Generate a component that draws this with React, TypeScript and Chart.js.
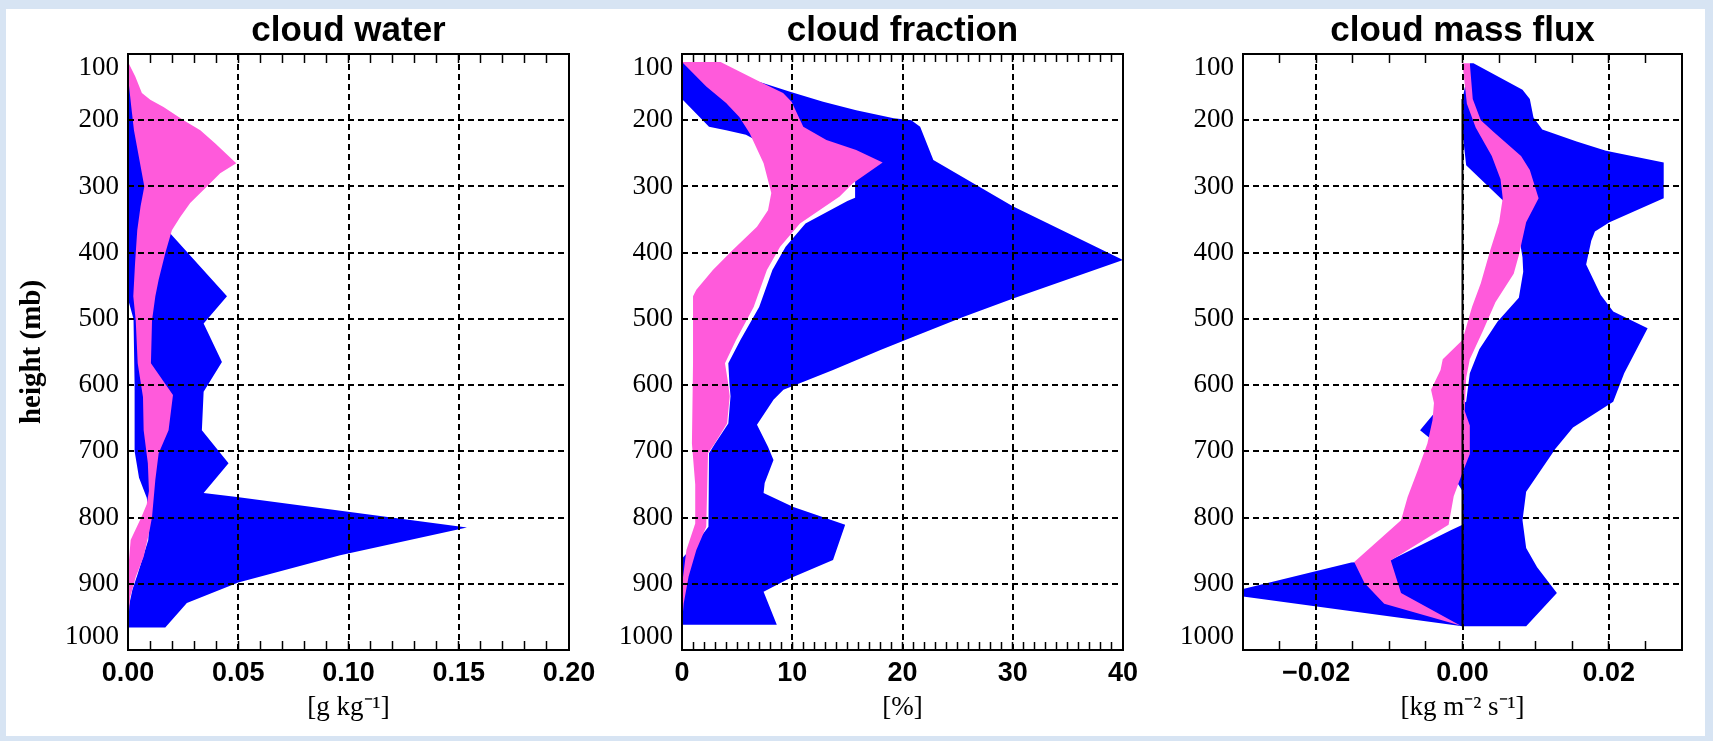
import React, { useEffect, useRef } from 'react';
import { Chart, registerables } from 'chart.js';

Chart.register(...registerables);

// ---------------- shared height axis (mb) ----------------
const heightTicks = [100, 200, 300, 400, 500, 600, 700, 800, 900, 1000];
const heightTop = 100;
const heightBottom = 1000;

// ---------------- cloud water [g kg-1] ----------------
const cwTicks = [0, 0.05, 0.1, 0.15, 0.2];
const cwTickLabels = ['0.00', '0.05', '0.10', '0.15', '0.20'];
const cwBlueLeftLev = [134, 470, 500, 600, 700, 740, 770, 800, 834, 884, 909, 940, 966];
const cwBlueLeftVal = [0, 0, 0.0025, 0.003, 0.003, 0.005, 0.0085, 0.0098, 0.0092, 0.0045, 0.002, 0, 0];
const cwBlueRightLev = [134, 180, 215, 300, 371, 466, 507, 565, 610, 668, 718, 763, 769, 815, 857, 898, 929, 966];
const cwBlueRightVal = [0, 0.004, 0.01, 0.015, 0.0192, 0.0449, 0.0343, 0.0426, 0.0343, 0.0335, 0.0456, 0.0343, 0.0494, 0.1537, 0.0962, 0.05, 0.0267, 0.0169];
const cwPinkLeftLev = [112, 134, 180, 215, 300, 330, 366, 416, 466, 502, 567, 618, 668, 718, 760, 780, 800, 834, 870, 900, 960];
const cwPinkLeftVal = [0, 0, 0.0015, 0.0027, 0.0074, 0.0057, 0.0042, 0.0032, 0.0024, 0.0035, 0.0044, 0.0068, 0.0071, 0.009, 0.0095, 0.0085, 0.006, 0.0012, 0.0003, 0, 0];
const cwPinkRightLev = [112, 134, 159, 169, 180, 200, 215, 235, 265, 280, 300, 325, 346, 366, 401, 441, 466, 502, 567, 615, 668, 703, 743, 799, 819, 859, 889, 920, 960];
const cwPinkRightVal = [0, 0.0033, 0.0063, 0.0101, 0.0161, 0.0252, 0.0328, 0.0396, 0.0491, 0.0418, 0.0358, 0.0282, 0.0237, 0.0199, 0.0169, 0.0139, 0.0124, 0.0109, 0.0104, 0.0204, 0.0184, 0.0139, 0.0124, 0.0109, 0.0098, 0.0071, 0.0036, 0.001, 0];

// ---------------- cloud fraction [%] ----------------
const cfTicks = [0, 10, 20, 30, 40];
const cfTickLabels = ['0', '10', '20', '30', '40'];
const cfBlueLeftLev = [112, 168, 210, 215, 222, 260, 292, 317, 322, 356, 391, 426, 482, 532, 567, 597, 617, 658, 688, 703, 814, 840, 862, 962];
const cfBlueLeftVal = [0, 0, 2.45, 4.0, 5.8, 10, 15.7, 15.7, 15.0, 11.2, 9.4, 8.2, 7.0, 5.3, 4.2, 4.3, 4.4, 4.2, 3.0, 2.45, 2.4, 1.2, 0, 0];
const cfBlueRightLev = [112, 144, 157, 172, 185, 197, 200, 210, 260, 330, 411, 469, 497, 527, 547, 577, 607, 622, 660, 693, 713, 748, 763, 784, 811, 864, 894, 912, 962];
const cfBlueRightVal = [1, 7.4, 9.8, 12.8, 15.8, 19.2, 20.8, 21.6, 22.8, 30.0, 40.0, 30.1, 25.5, 21.0, 18.0, 13.7, 9.2, 8.3, 6.8, 7.8, 8.3, 7.5, 7.4, 10.1, 14.8, 13.7, 9.5, 7.4, 8.6];
const cfPinkLeftLev = [112, 149, 174, 195, 220, 265, 310, 336, 361, 396, 426, 456, 466, 567, 688, 750, 809, 849, 889, 910, 960];
const cfPinkLeftVal = [0, 2.2, 4.0, 5.2, 6.15, 7.4, 8.1, 7.8, 6.8, 4.6, 2.8, 1.3, 1.0, 1.0, 0.9, 1.2, 1.2, 0.4, 0.1, 0, 0];
const cfPinkRightLev = [112, 142, 159, 172, 210, 230, 245, 264, 295, 315, 356, 391, 426, 482, 532, 567, 597, 617, 658, 688, 703, 814, 849, 889, 930, 960];
const cfPinkRightVal = [3.5, 7.06, 9.17, 9.94, 11.0, 13.1, 15.8, 18.2, 15.5, 14.3, 10.7, 8.9, 7.7, 6.5, 4.9, 3.9, 4.18, 4.33, 4.09, 2.97, 2.36, 2.2, 1.3, 0.6, 0.15, 0];

// ---------------- cloud mass flux [kg m-2 s-1] ----------------
const mfTicks = [-0.02, 0, 0.02];
const mfTickLabels = ['\u22120.02', '0.00', '0.02'];
const mfBlueLeftLev = [114, 168, 218, 268, 321, 360, 407, 429, 468, 504, 546, 582, 625, 643, 668, 685, 720, 746, 760, 811, 819, 864, 868, 915, 964];
const mfBlueLeftVal = [0.001, 0, 0, 0.0005, 0.0055, 0.0075, 0.0082, 0.0083, 0.0077, 0.0048, 0.0023, 0.001, 0.0005, -0.0039, -0.0058, -0.0039, -0.002, -0.0008, 0, 0, -0.0016, -0.0098, -0.0152, -0.0327, 0];
const mfBlueRightLev = [114, 154, 168, 196, 214, 232, 246, 264, 318, 354, 368, 382, 418, 464, 489, 514, 582, 625, 664, 696, 761, 804, 846, 875, 914, 964];
const mfBlueRightVal = [0.0015, 0.0082, 0.0092, 0.0097, 0.0109, 0.0156, 0.0196, 0.0275, 0.0275, 0.0201, 0.0181, 0.0176, 0.0169, 0.0189, 0.0206, 0.0253, 0.0221, 0.0206, 0.0151, 0.0127, 0.0087, 0.0082, 0.0087, 0.0102, 0.0129, 0.0087];
const mfPinkLeftLev = [114, 175, 211, 254, 289, 318, 354, 396, 446, 482, 532, 561, 577, 607, 627, 653, 688, 728, 769, 804, 867, 899, 930, 963];
const mfPinkLeftVal = [0, 0.0006, 0.0018, 0.004, 0.0052, 0.0055, 0.005, 0.0038, 0.0025, 0.0013, 0, -0.0027, -0.003, -0.0043, -0.0039, -0.0041, -0.0048, -0.0061, -0.0075, -0.0084, -0.0148, -0.0134, -0.0107, -0.0003];
const mfPinkRightLev = [114, 168, 200, 218, 254, 275, 318, 354, 404, 432, 475, 518, 561, 589, 639, 661, 704, 732, 768, 811, 865, 914, 963];
const mfPinkRightVal = [0.001, 0.0014, 0.0025, 0.0043, 0.008, 0.0092, 0.0104, 0.0087, 0.0077, 0.007, 0.0045, 0.0028, 0.001, 0.0005, 0.0003, 0.001, 0.001, 0, -0.0012, -0.0019, -0.0098, -0.0084, -0.0003];
const mfZeroLev = [168, 964];
const mfZeroVal = [0, 0];

// ---------------- styles ----------------
const BLUE = '#0000ff';
const PINK = '#ff5adb';
const SANS = '"Liberation Sans", Arial, Helvetica, sans-serif';
const SERIF = '"Liberation Serif", "Times New Roman", serif';
const CLEAR = 'rgba(0,0,0,0)';

type Series = { color: string; leftLev: number[]; leftVal: number[]; rightLev: number[]; rightVal: number[] };
type Spec = {
  id: string;
  left: number;
  axisW: number;
  plotW: number;
  title: string;
  xMin: number;
  xMax: number;
  ticks: number[];
  tickLabels: string[];
  minorStep: number;
  minorLen: number;
  xTitle: string;
  yTitle?: string;
  series: Series[];
  zeroLev?: number[];
  zeroVal?: number[];
};

function polygon(s: Series) {
  const pts: { x: number; y: number }[] = [];
  for (let i = 0; i < s.leftLev.length; i++) pts.push({ x: s.leftVal[i], y: s.leftLev[i] });
  for (let i = s.rightLev.length - 1; i >= 0; i--) pts.push({ x: s.rightVal[i], y: s.rightLev[i] });
  return pts;
}

function minorPositions(min: number, max: number, step: number) {
  const out: number[] = [];
  const n = Math.round((max - min) / step);
  for (let i = 1; i < n; i++) out.push(min + i * step);
  return out;
}

function heightLabel(v: number): string | string[] {
  if (v === heightTop) return ['', String(v)];
  if (v === heightBottom) return [String(v), ''];
  return String(v);
}

function buildConfig(s: Spec): any {
  const datasets: any[] = [];
  if (s.zeroLev && s.zeroVal) {
    datasets.push({
      data: s.zeroLev.map((l, i) => ({ x: s.zeroVal![i], y: l })),
      borderColor: '#000',
      borderWidth: 2,
      pointRadius: 0,
      fill: false,
      xAxisID: 'x',
      yAxisID: 'y',
    });
  }
  for (const ser of s.series) {
    datasets.push({
      data: polygon(ser),
      backgroundColor: ser.color,
      borderColor: CLEAR,
      borderWidth: 1,
      borderDash: [10, 0],
      pointRadius: 0,
      pointHitRadius: 0,
      tension: 0,
      fill: 'shape',
      xAxisID: 'x',
      yAxisID: 'y',
    });
  }
  const minor = minorPositions(s.xMin, s.xMax, s.minorStep);
  const isEdgeX = (v: number) => Math.abs(v - s.xMin) < 1e-9 || Math.abs(v - s.xMax) < 1e-9;
  const isEdgeY = (v: number) => v === heightTop || v === heightBottom;
  const yBase = { type: 'linear', min: heightTop, max: heightBottom, reverse: true };
  const minorAxis = (position: string) => ({
    type: 'linear',
    position,
    min: s.xMin,
    max: s.xMax,
    weight: 0,
    afterBuildTicks: (sc: any) => {
      sc.ticks = minor.map((v) => ({ value: v }));
    },
    afterFit: (sc: any) => {
      sc.height = 0;
    },
    ticks: { display: false },
    grid: {
      display: true,
      drawOnChartArea: false,
      drawTicks: true,
      tickLength: -s.minorLen,
      tickColor: '#000',
      tickWidth: 1.5,
      z: 1,
    },
    border: { display: true, color: '#000', width: 2, z: 1 },
  });

  return {
    type: 'line',
    data: { datasets },
    options: {
      animation: false,
      responsive: false,
      maintainAspectRatio: false,
      indexAxis: 'y',
      events: [],
      layout: { padding: 0 },
      plugins: {
        legend: { display: false },
        tooltip: { enabled: false },
        title: {
          display: true,
          text: s.title,
          color: '#000',
          font: { family: SANS, size: 35, weight: 'bold', lineHeight: 1.2 },
          padding: { top: 10, bottom: 2 },
        },
      },
      scales: {
        x: {
          type: 'linear',
          position: 'bottom',
          min: s.xMin,
          max: s.xMax,
          weight: 1,
          afterBuildTicks: (sc: any) => {
            sc.ticks = s.ticks.map((v) => ({ value: v }));
          },
          afterFit: (sc: any) => {
            sc.height = 91;
          },
          ticks: {
            autoSkip: false,
            maxRotation: 0,
            minRotation: 0,
            padding: 7,
            color: '#000',
            font: { family: SANS, size: 27, weight: 'bold' },
            callback: (_v: any, i: number) => s.tickLabels[i],
          },
          grid: {
            display: true,
            drawTicks: false,
            lineWidth: 2,
            color: (c: any) => (c.tick && isEdgeX(c.tick.value) ? CLEAR : '#000'),
            z: 1,
          },
          border: { display: false, dash: [6, 4] },
          title: {
            display: true,
            text: s.xTitle,
            color: '#000',
            font: { family: SERIF, size: 27 },
            padding: { top: 0, bottom: 17 },
          },
        },
        xMinorB: minorAxis('bottom'),
        xMinorT: minorAxis('top'),
        y: {
          ...yBase,
          position: 'left',
          weight: 1,
          afterBuildTicks: (sc: any) => {
            sc.ticks = heightTicks.map((v) => ({ value: v }));
          },
          afterFit: (sc: any) => {
            sc.width = s.axisW;
          },
          ticks: {
            color: '#000',
            padding: 9,
            autoSkip: false,
            font: { family: SERIF, size: 27, lineHeight: 1.0 },
            callback: (v: any) => heightLabel(Number(v)),
          },
          grid: {
            display: true,
            drawTicks: false,
            lineWidth: 2,
            color: (c: any) => (c.tick && isEdgeY(c.tick.value) ? CLEAR : '#000'),
            z: 1,
          },
          border: { display: false, dash: [6, 4] },
          title: s.yTitle
            ? {
                display: true,
                text: s.yTitle,
                color: '#000',
                font: { family: SERIF, size: 29, weight: 'bold' },
                padding: { top: 15, bottom: 0 },
              }
            : { display: false },
        },
        yL: {
          ...yBase,
          position: 'left',
          weight: 0,
          afterFit: (sc: any) => {
            sc.width = 0;
          },
          ticks: { display: false },
          grid: { display: true, drawOnChartArea: false, drawTicks: false },
          border: { display: true, color: '#000', width: 2, z: 1 },
        },
        yR: {
          ...yBase,
          position: 'right',
          weight: 0,
          afterFit: (sc: any) => {
            sc.width = s.axisW;
          },
          ticks: { display: false },
          grid: { display: true, drawOnChartArea: false, drawTicks: false },
          border: { display: true, color: '#000', width: 2, z: 1 },
        },
      },
    },
  };
}

const specs: Spec[] = [
  {
    id: 'cw',
    left: 0,
    axisW: 128,
    plotW: 441,
    title: 'cloud water',
    xMin: 0,
    xMax: 0.2,
    ticks: cwTicks,
    tickLabels: cwTickLabels,
    minorStep: 0.01,
    minorLen: 9,
    xTitle: '[g kg\u207B\u00B9]',
    yTitle: 'height (mb)',
    series: [
      { color: PINK, leftLev: cwPinkLeftLev, leftVal: cwPinkLeftVal, rightLev: cwPinkRightLev, rightVal: cwPinkRightVal },
      { color: BLUE, leftLev: cwBlueLeftLev, leftVal: cwBlueLeftVal, rightLev: cwBlueRightLev, rightVal: cwBlueRightVal },
    ],
  },
  {
    id: 'cf',
    left: 612,
    axisW: 70,
    plotW: 441,
    title: 'cloud fraction',
    xMin: 0,
    xMax: 40,
    ticks: cfTicks,
    tickLabels: cfTickLabels,
    minorStep: 1,
    minorLen: 8,
    xTitle: '[%]',
    series: [
      { color: PINK, leftLev: cfPinkLeftLev, leftVal: cfPinkLeftVal, rightLev: cfPinkRightLev, rightVal: cfPinkRightVal },
      { color: BLUE, leftLev: cfBlueLeftLev, leftVal: cfBlueLeftVal, rightLev: cfBlueRightLev, rightVal: cfBlueRightVal },
    ],
  },
  {
    id: 'mf',
    left: 1173,
    axisW: 70,
    plotW: 439,
    title: 'cloud mass flux',
    xMin: -0.03,
    xMax: 0.03,
    ticks: mfTicks,
    tickLabels: mfTickLabels,
    minorStep: 0.005,
    minorLen: 9,
    xTitle: '[kg m\u207B\u00B2 s\u207B\u00B9]',
    series: [
      { color: PINK, leftLev: mfPinkLeftLev, leftVal: mfPinkLeftVal, rightLev: mfPinkRightLev, rightVal: mfPinkRightVal },
      { color: BLUE, leftLev: mfBlueLeftLev, leftVal: mfBlueLeftVal, rightLev: mfBlueRightLev, rightVal: mfBlueRightVal },
    ],
    zeroLev: mfZeroLev,
    zeroVal: mfZeroVal,
  },
];

function Panel({ spec }: { spec: Spec }) {
  const ref = useRef<HTMLCanvasElement | null>(null);
  useEffect(() => {
    if (!ref.current) return;
    const chart = new Chart(ref.current, buildConfig(spec));
    return () => chart.destroy();
  }, [spec]);
  const w = spec.plotW + 2 * spec.axisW;
  return (
    <canvas
      ref={ref}
      width={w}
      height={741}
      style={{ position: 'absolute', left: spec.left, top: 0, width: w, height: 741 }}
    />
  );
}

export default function App() {
  useEffect(() => {
    document.body.style.margin = '0';
  }, []);
  return (
    <div
      style={{
        position: 'absolute',
        left: 0,
        top: 0,
        width: 1713,
        height: 741,
        overflow: 'hidden',
        background: '#d7e4f3',
      }}
    >
      <div style={{ position: 'absolute', left: 6, top: 9, width: 1699, height: 727, background: '#ffffff' }} />
      {specs.map((s) => (
        <Panel key={s.id} spec={s} />
      ))}
    </div>
  );
}
